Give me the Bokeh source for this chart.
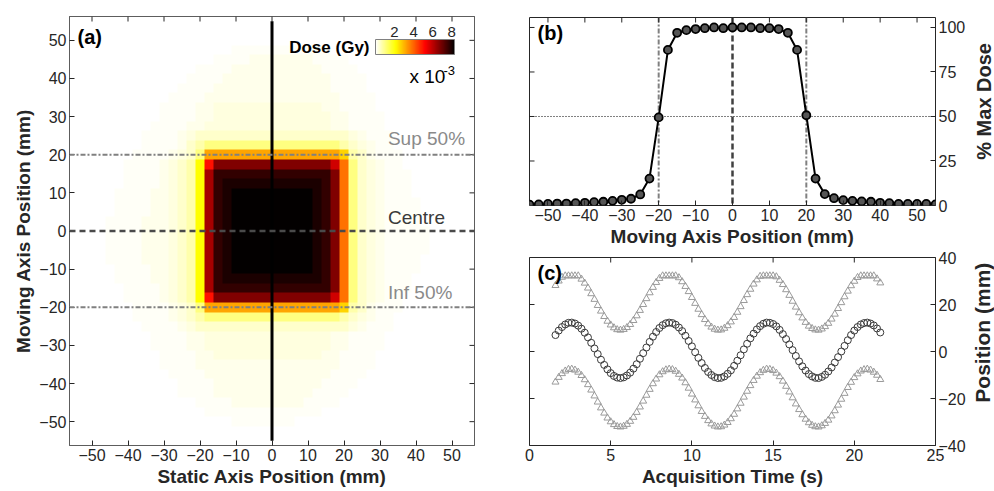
import numpy as np
from bokeh.plotting import figure
from bokeh.models import (LinearColorMapper, ColorBar, FixedTicker, Span, Label, Range1d)
from bokeh.layouts import row, column
from bokeh.embed import file_html
from bokeh.resources import INLINE

# ---------------- data ----------------
GRID_MM = [-55.0, -52.5, -50.0, -47.5, -45.0, -42.5, -40.0, -37.5, -35.0, -32.5,
           -30.0, -27.5, -25.0, -22.5, -20.0, -17.5, -15.0, -12.5, -10.0, -7.5,
           -5.0, -2.5, 0.0, 2.5, 5.0, 7.5, 10.0, 12.5, 15.0, 17.5,
           20.0, 22.5, 25.0, 27.5, 30.0, 32.5, 35.0, 37.5, 40.0, 42.5,
           45.0, 47.5, 50.0, 52.5, 55.0]
GRID_STEP = 2.5

# dose levels (x 1e-3 Gy) used in the map, keyed by one character
DOSE_LEVELS = {".": 0.0, "1": 0.07, "2": 0.17, "3": 0.28, "4": 0.45, "5": 0.7,
               "6": 1.05, "7": 2.1, "8": 2.6, "A": 3.2, "B": 3.8, "C": 5.0,
               "D": 5.8, "E": 6.3, "F": 6.75, "H": 7.7, "I": 8.0, "J": 8.3}

# dose map rows, top (moving axis +55 mm) to bottom (-55 mm); run-length "char*count"
DOSE_ROWS = [
    ".*45",
    ".*45",
    ".*45",
    ".*18 1*11 .*16",
    ".*16 1*4 2*7 1*4 .*14",
    ".*14 1*4 2*10 1*4 .*13",
    ".*13 1*4 2*12 1*4 .*12",
    ".*12 1*4 2*13 1*4 .*12",
    ".*11 1*4 2*15 1*4 .*11",
    ".*10 1*4 2*2 3*12 2*2 1*4 .*11",
    ".*10 1*4 2*2 3*13 2*2 1*4 .*10",
    ".*9 1*4 2*2 3*14 2*2 1*4 .*10",
    ".*8 1*4 2 3 4*17 3 2 1*3 .*9",
    ".*8 1*4 2 4 5 6*15 5 4 3 2 1*2 .*9",
    ".*7 1*4 2 3 4 6 A*15 8 5 4 2 1*3 .*8",
    ".*6 1*4 2 3 4 5 7 C F*13 D B 6 4 3 2 1*2 .*8",
    ".*6 1*4 2 3 4 5 7 E H*13 F B 6 4 3 2 1*3 .*7",
    ".*6 1*4 2 3 4 5 7 E H I*11 H F B 6 4 3 2 1*3 .*7",
    ".*5 1*4 2*2 3 4 5 7 E H I J*9 I H F B 6 4 3 2 1*3 .*7",
    ".*5 1*4 2*2 3 4 5 7 E H I J*9 I H F B 6 4 3 2 1*4 .*6",
    ".*5 1*4 2*2 3 4 5 7 E H I J*9 I H F B 6 4 3 2 1*4 .*6",
    ".*4 1*4 2*3 3 4 5 7 E H I J*9 I H F B 6 4 3 2 1*4 .*6",
    ".*4 1*4 2*3 3 4 5 7 E H I J*9 I H F B 6 4 3 2 1*5 .*5",
    ".*4 1*4 2*3 3 4 5 7 E H I J*9 I H F B 6 4 3 2 1*5 .*5",
    ".*4 1*4 2*3 3 4 5 7 E H I J*9 I H F B 6 4 3 2 1*5 .*5",
    ".*4 1*4 2*3 3 4 5 7 E H I J*9 I H F B 6 4 3 2 1*4 .*6",
    ".*5 1*4 2*2 3 4 5 7 E H I J*9 I H F B 6 4 3 2 1*4 .*6",
    ".*5 1*4 2*2 3 4 5 7 E H I*11 H F B 6 4 3 2 1*3 .*7",
    ".*6 1*4 2 3 4 5 7 E H*13 F B 6 4 3 2 1*3 .*7",
    ".*6 1*4 2 3 4 5 7 C F*13 D B 6 4 3 2 1*2 .*8",
    ".*7 1*4 2 3 4 6 A*15 8 5 4 2 1*3 .*8",
    ".*7 1*4 2 3 4 5 6*15 5 4 3 2 1*2 .*9",
    ".*8 1*4 2 3 4*17 3 2 1*3 .*9",
    ".*9 1*4 2*2 3*14 2*2 1*4 .*10",
    ".*9 1*4 2*2 3*14 2*2 1*4 .*10",
    ".*10 1*4 2*2 3*12 2*2 1*4 .*11",
    ".*10 1*4 2*16 1*4 .*11",
    ".*11 1*4 2*14 1*4 .*12",
    ".*12 1*4 2*12 1*4 .*13",
    ".*12 1*4 2*11 1*4 .*14",
    ".*14 1*4 2*8 1*4 .*15",
    ".*15 1*13 .*17",
    ".*18 1*7 .*20",
    ".*45",
    ".*45",
]

# (b) % of max dose along the moving axis at GRID_MM positions
PROFILE_PCT = [0.5, 0.6, 0.9, 1.1, 1.1, 1.3, 1.5, 1.9, 2.1, 2.6,
               3.2, 3.8, 6.2, 15.1, 49.5, 87.4, 97.0, 98.5, 99.1, 99.6,
               100.0, 99.6, 100.0, 100.0, 100.0, 99.6, 99.6, 99.1, 97.0, 87.4,
               50.7, 15.1, 6.4, 4.1, 3.0, 2.6, 2.3, 2.1, 1.5, 1.3,
               0.9, 0.9, 0.9, 0.9, 0.6]

# (c) positions versus acquisition time
TIME_S = [1.6, 1.8, 2.0, 2.2, 2.4, 2.6, 2.8, 3.0, 3.2, 3.4, 3.6, 3.8, 4.0, 4.2,
          4.4, 4.6, 4.8, 5.0, 5.2, 5.4, 5.6, 5.8, 6.0, 6.2, 6.4, 6.6, 6.8, 7.0,
          7.2, 7.4, 7.6, 7.8, 8.0, 8.2, 8.4, 8.6, 8.8, 9.0, 9.2, 9.4, 9.6, 9.8,
          10.0, 10.2, 10.4, 10.6, 10.8, 11.0, 11.2, 11.4, 11.6, 11.8, 12.0, 12.2,
          12.4, 12.6, 12.8, 13.0, 13.2, 13.4, 13.6, 13.8, 14.0, 14.2, 14.4, 14.6,
          14.8, 15.0, 15.2, 15.4, 15.6, 15.8, 16.0, 16.2, 16.4, 16.6, 16.8, 17.0,
          17.2, 17.4, 17.6, 17.8, 18.0, 18.2, 18.4, 18.6, 18.8, 19.0, 19.2, 19.4,
          19.6, 19.8, 20.0, 20.2, 20.4, 20.6, 20.8, 21.0, 21.2, 21.4, 21.6]
SUP_MM = [28.1, 30.0, 31.6, 32.2, 32.2, 32.2, 32.2, 32.2, 30.8, 29.1, 27.0, 24.6,
          22.2, 19.6, 17.2, 14.9, 12.9, 11.3, 10.1, 9.3, 9.1, 9.4, 10.2, 11.5,
          13.2, 15.2, 17.5, 20.0, 22.5, 25.0, 27.3, 29.4, 31.1, 32.2, 32.2, 32.2,
          32.2, 32.2, 31.4, 29.7, 27.7, 25.5, 23.0, 20.5, 18.0, 15.7, 13.6, 11.8,
          10.4, 9.5, 9.1, 9.2, 9.9, 11.0, 12.6, 14.5, 16.7, 19.1, 21.7, 24.2,
          26.5, 28.7, 30.5, 32.0, 32.2, 32.2, 32.2, 32.2, 31.8, 30.3, 28.5, 26.3,
          23.9, 21.4, 18.9, 16.5, 14.3, 12.4, 10.8, 9.8, 9.2, 9.1, 9.6, 10.6,
          12.0, 13.8, 15.9, 18.3, 20.8, 23.3, 25.7, 28.0, 29.9, 31.5, 32.2, 32.2,
          32.2, 32.2, 32.2, 30.9, 29.2]
CENTRE_MM_SERIES = [7.0, 8.9, 10.4, 11.5, 12.2, 12.3, 11.9, 11.0, 9.7, 8.0, 6.0,
                    3.7, 1.3, -1.1, -3.5, -5.7, -7.6, -9.2, -10.4, -11.1, -11.3,
                    -11.0, -10.2, -9.0, -7.3, -5.4, -3.1, -0.7, 1.7, 4.1, 6.3, 8.3,
                    10.0, 11.2, 12.0, 12.3, 12.1, 11.4, 10.2, 8.7, 6.7, 4.5, 2.2,
                    -0.3, -2.7, -4.9, -7.0, -8.7, -10.0, -10.9, -11.3, -11.2,
                    -10.6, -9.5, -8.0, -6.1, -3.9, -1.6, 0.9, 3.3, 5.6, 7.6, 9.4,
                    10.8, 11.8, 12.3, 12.2, 11.7, 10.7, 9.2, 7.4, 5.3, 3.0, 0.6,
                    -1.9, -4.2, -6.3, -8.1, -9.6, -10.6, -11.2, -11.3, -10.8, -9.9,
                    -8.5, -6.8, -4.7, -2.4, 0.0, 2.4, 4.8, 7.0, 8.9, 10.4, 11.5,
                    12.1, 12.3, 11.9, 11.1, 9.8, 8.1]
INF_MM = [-13.0, -11.0, -9.4, -8.3, -7.6, -7.5, -7.9, -8.8, -10.2, -12.0, -14.1,
          -16.4, -18.9, -21.5, -24.0, -26.2, -28.3, -29.9, -31.1, -31.9, -32.1,
          -31.8, -31.0, -29.7, -28.0, -25.9, -23.6, -21.1, -18.6, -16.1, -13.7,
          -11.7, -9.9, -8.6, -7.8, -7.5, -7.7, -8.4, -9.7, -11.3, -13.3, -15.6,
          -18.1, -20.6, -23.1, -25.5, -27.6, -29.4, -30.8, -31.7, -32.1, -32.0,
          -31.3, -30.2, -28.6, -26.7, -24.4, -22.0, -19.4, -16.9, -14.5, -12.3,
          -10.5, -9.0, -8.0, -7.5, -7.6, -8.1, -9.2, -10.7, -12.6, -14.8, -17.2,
          -19.7, -22.3, -24.7, -26.9, -28.8, -30.3, -31.4, -32.0, -32.1, -31.6,
          -30.6, -29.2, -27.4, -25.2, -22.8, -20.3, -17.8, -15.3, -13.1, -11.1,
          -9.5, -8.3, -7.7, -7.5, -7.9, -8.8, -10.1, -11.9]

SUP_50_MM = 20.0
INF_50_MM = -20.0
CENTRE_MM = 0.0
HALF_MAX_PCT = 50.0
CB_LOW, CB_HIGH = 0.0, 8.3

A_TICKS = [-50, -40, -30, -20, -10, 0, 10, 20, 30, 40, 50]
B_Y_TICKS = [0, 25, 50, 75, 100]
C_X_TICKS = [0, 5, 10, 15, 20, 25]
C_Y_TICKS = [-40, -20, 0, 20, 40]
CB_TICKS = [2, 4, 6, 8]

# ---------------- styling ----------------
FONT = "Liberation Sans"
TXT = "#262626"
TICK_FS = "16px"
LABEL_FS = "19px"
DASHDOT = "5 2 2 2"
TICK_PX = 5


def hot(m):
    n = int(3 * m / 8)
    cols = []
    for i in range(m):
        r = min(1.0, (i + 1) / n)
        g = min(1.0, max(0.0, (i + 1 - n) / n))
        b = min(1.0, max(0.0, (i + 1 - 2 * n) / (m - 2 * n)))
        cols.append("#%02x%02x%02x" % (round(255 * r), round(255 * g), round(255 * b)))
    return cols


def expand(spec):
    out = []
    for tok in spec.split():
        if "*" in tok:
            ch, n = tok.split("*")
            out.extend([ch] * int(n))
        else:
            out.append(tok)
    out = (out + ["."] * len(GRID_MM))[:len(GRID_MM)]
    return [DOSE_LEVELS[c] for c in out]


def style_axis(ax, ticks):
    ax.ticker = FixedTicker(ticks=ticks)
    ax.axis_line_color = None
    ax.major_tick_in = TICK_PX
    ax.major_tick_out = 0
    ax.major_tick_line_color = TXT
    ax.major_tick_line_width = 1
    ax.minor_tick_line_color = None
    ax.major_label_text_font = FONT
    ax.major_label_text_color = TXT
    ax.major_label_text_font_size = TICK_FS
    ax.major_label_standoff = 3
    ax.axis_label_text_font = FONT
    ax.axis_label_text_font_size = LABEL_FS
    ax.axis_label_text_font_style = "bold"
    ax.axis_label_text_color = TXT
    ax.axis_label_standoff = 2


def mirror_ticks(p, xticks, yticks, xr, yr, frame_w, frame_h, top=True, side="right"):
    """inward tick marks on the unlabelled sides of the box"""
    dy = TICK_PX * (yr[1] - yr[0]) / frame_h
    dx = TICK_PX * (xr[1] - xr[0]) / frame_w
    if top:
        p.segment(x0=xticks, y0=[yr[1]] * len(xticks), x1=xticks,
                  y1=[yr[1] - dy] * len(xticks), line_color=TXT, line_width=1)
    if side == "right":
        p.segment(x0=[xr[1]] * len(yticks), y0=yticks, x1=[xr[1] - dx] * len(yticks),
                  y1=yticks, line_color=TXT, line_width=1)
    else:
        p.segment(x0=[xr[0]] * len(yticks), y0=yticks, x1=[xr[0] + dx] * len(yticks),
                  y1=yticks, line_color=TXT, line_width=1)


def base_fig(**kw):
    p = figure(output_backend="svg", toolbar_location=None, **kw)
    p.grid.visible = False
    p.outline_line_color = TXT
    p.outline_line_width = 1
    p.background_fill_color = "white"
    p.border_fill_color = "white"
    return p


def screen_label(p, x, y, text, size, style="normal", color=TXT, align="left",
                 baseline="middle", angle=0.0):
    p.add_layout(Label(x=x, y=y, x_units="screen", y_units="screen", text=text,
                       text_font=FONT, text_font_size=size, text_font_style=style,
                       text_color=color, text_align=align, text_baseline=baseline,
                       angle=angle))


def side_title(width, height, x, y, text, size):
    """narrow strip holding a y-axis title that reads bottom to top"""
    f = figure(width=width, height=height, output_backend="svg", toolbar_location=None,
               title=None, x_axis_type=None, y_axis_type=None,
               x_range=Range1d(0, width), y_range=Range1d(0, height),
               min_border_left=0, min_border_right=0, min_border_top=0,
               min_border_bottom=0)
    f.grid.visible = False
    f.outline_line_color = None
    f.border_fill_color = "white"
    f.background_fill_color = "white"
    f.add_layout(Label(x=x, y=y, text=text, text_font=FONT, text_font_size=size,
                       text_font_style="bold", text_color=TXT, text_align="center",
                       text_baseline="middle", angle=np.pi / 2))
    return f


# ---------------- panel (a) ----------------
half = GRID_STEP / 2
a_lo, a_hi = GRID_MM[0] - half, GRID_MM[-1] + half
A_W, A_H, A_L, A_R, A_T, A_B = 500, 491, 69, 26, 16, 46
pa = base_fig(width=A_W, height=A_H, x_range=Range1d(a_lo, a_hi), y_range=Range1d(a_lo, a_hi),
              min_border_left=A_L, min_border_right=A_R, min_border_top=A_T,
              min_border_bottom=A_B)
style_axis(pa.xaxis[0], A_TICKS)
style_axis(pa.yaxis[0], A_TICKS)
pa.xaxis[0].axis_label = "Static Axis Position (mm)"
pa.yaxis[0].axis_label = "Moving Axis Position (mm)"

dose = np.array([expand(r) for r in DOSE_ROWS])[::-1]
mapper = LinearColorMapper(palette=hot(256)[::-1], low=CB_LOW, high=CB_HIGH)
pa.image(image=[dose], x=a_lo, y=a_lo, dw=a_hi - a_lo, dh=a_hi - a_lo, color_mapper=mapper)
mirror_ticks(pa, A_TICKS, A_TICKS, (a_lo, a_hi), (a_lo, a_hi),
             A_W - A_L - A_R, A_H - A_T - A_B, top=True, side="right")

pa.add_layout(Span(location=SUP_50_MM, dimension="width", line_color="#808080",
                   line_width=2, line_dash=DASHDOT))
pa.add_layout(Span(location=INF_50_MM, dimension="width", line_color="#808080",
                   line_width=2, line_dash=DASHDOT))
pa.add_layout(Span(location=CENTRE_MM, dimension="width", line_color="#4a4a4a",
                   line_width=2.5, line_dash="6 4"))
pa.line([CENTRE_MM, CENTRE_MM], [GRID_MM[0], GRID_MM[-1]], line_color="black", line_width=3)

for txt, yv, col in [("Sup 50%", SUP_50_MM + 4.3, "#8a8a8a"),
                     ("Centre", CENTRE_MM + 3.5, "#3a3a3a"),
                     ("Inf 50%", INF_50_MM + 3.9, "#8a8a8a")]:
    pa.add_layout(Label(x=32.2, y=yv, text=txt, text_font=FONT, text_font_size="19px",
                        text_color=col, text_align="left", text_baseline="middle"))

screen_label(pa, 8, 409, "(a)", "20px", "bold", "black")

# colour bar (inside the frame, top right)
CB_X, CB_Y, CB_W, CB_H = 306, 391, 79, 15
cb = ColorBar(color_mapper=mapper, orientation="horizontal", location=(CB_X, CB_Y),
              width=CB_W, height=CB_H, padding=0, ticker=FixedTicker(ticks=[]),
              label_standoff=0, major_tick_line_color=None, minor_tick_line_color=None,
              bar_line_color="#808080", border_line_color=None, background_fill_alpha=0)
pa.add_layout(cb, "center")
for v in CB_TICKS:
    screen_label(pa, CB_X + (v - CB_LOW) / (CB_HIGH - CB_LOW) * CB_W, CB_Y + CB_H + 8,
                 str(v), "15px", align="center")
screen_label(pa, CB_X - 6, CB_Y + CB_H / 2, "Dose (Gy)", "17px", "bold", "black", align="right")
screen_label(pa, CB_X + 34, CB_Y - 22, "x 10", "19px", color="black")
screen_label(pa, CB_X + 68, CB_Y - 16, "-3", "13px", color="black")

# ---------------- panel (b) ----------------
B_W, B_H, B_L, B_R, B_T, B_B = 468, 251, 29, 33, 17, 46
b_x, b_y = (GRID_MM[0], GRID_MM[-1]), (0.0, 105.6)
pb = base_fig(width=B_W, height=B_H, x_range=Range1d(*b_x), y_range=Range1d(*b_y),
              y_axis_location="right", min_border_left=B_L, min_border_right=B_R,
              min_border_top=B_T, min_border_bottom=B_B)
style_axis(pb.xaxis[0], A_TICKS)
style_axis(pb.yaxis[0], B_Y_TICKS)
pb.xaxis[0].axis_label = "Moving Axis Position (mm)"
mirror_ticks(pb, A_TICKS, B_Y_TICKS, b_x, b_y, B_W - B_L - B_R, B_H - B_T - B_B,
             top=True, side="left")
for loc, col, dash, w in [(INF_50_MM, "#808080", DASHDOT, 2),
                          (SUP_50_MM, "#808080", DASHDOT, 2),
                          (CENTRE_MM, "#404040", "6 3", 2.5)]:
    pb.add_layout(Span(location=loc, dimension="height", line_color=col, line_width=w,
                       line_dash=dash, level="underlay"))
pb.add_layout(Span(location=HALF_MAX_PCT, dimension="width", line_color="black",
                   line_width=1, line_dash="1 2", level="underlay"))
pb.line(GRID_MM, PROFILE_PCT, line_color="black", line_width=2)
pb.scatter(GRID_MM, PROFILE_PCT, marker="circle", size=8, fill_color="#555555",
           line_color="black", line_width=1.8)
screen_label(pb, 8, 173, "(b)", "20px", "bold", "black")
lb = side_title(26, B_H, 15, 139, "% Max Dose", "20px")

# ---------------- panel (c) ----------------
C_W, C_H, C_L, C_R, C_T, C_B = 468, 240, 29, 33, 6, 46
c_x, c_y = (0.0, 25.0), (-40.0, 40.0)
pc = base_fig(width=C_W, height=C_H, x_range=Range1d(*c_x), y_range=Range1d(*c_y),
              y_axis_location="right", min_border_left=C_L, min_border_right=C_R,
              min_border_top=C_T, min_border_bottom=C_B)
style_axis(pc.xaxis[0], C_X_TICKS)
style_axis(pc.yaxis[0], C_Y_TICKS)
pc.xaxis[0].axis_label = "Acquisition Time (s)"
mirror_ticks(pc, C_X_TICKS, C_Y_TICKS, c_x, c_y, C_W - C_L - C_R, C_H - C_T - C_B,
             top=True, side="left")
pc.scatter(TIME_S, SUP_MM, marker="triangle", size=7, fill_alpha=0,
           line_color="#9a9a9a", line_width=1)
pc.scatter(TIME_S, INF_MM, marker="triangle", size=7, fill_alpha=0,
           line_color="#9a9a9a", line_width=1)
pc.scatter(TIME_S, CENTRE_MM_SERIES, marker="circle", size=7, fill_alpha=0,
           line_color="#3a3a3a", line_width=1)
screen_label(pc, 8, 173, "(c)", "20px", "bold", "black")
lc = side_title(26, C_H, 14, 144, "Position (mm)", "21px")

layout = row(pa, column(row(pb, lb), row(pc, lc)))
open("out.html", "w").write(file_html(layout, INLINE))
